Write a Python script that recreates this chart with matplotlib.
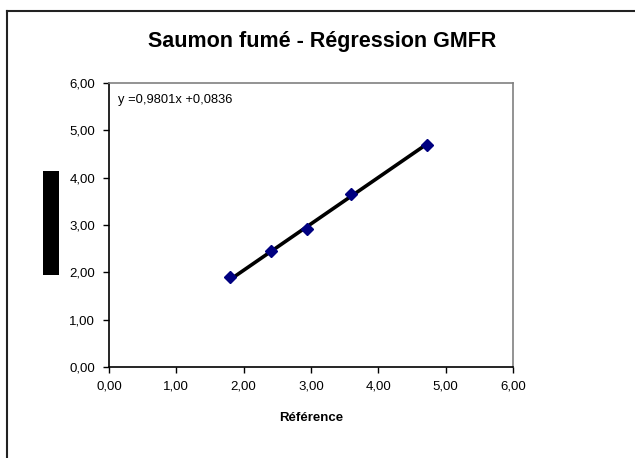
import matplotlib
matplotlib.use("Agg")
import matplotlib.pyplot as plt
from matplotlib.lines import Line2D
from matplotlib.patches import Rectangle
from matplotlib.ticker import FixedLocator, FuncFormatter
import numpy as np

plt.rcParams['font.family'] = ['Liberation Sans', 'DejaVu Sans']

# Data
ref_x = [1.80, 2.40, 2.94, 3.59, 4.72]
meas_y = [1.91, 2.46, 2.91, 3.65, 4.69]
slope = 0.9801
intercept = 0.0836
title = "Saumon fumé - Régression GMFR"
xlabel = "Référence"
equation = "y =0,9801x +0,0836"
ticks = [0, 1, 2, 3, 4, 5, 6]

W, H = 635, 458
fig = plt.figure(figsize=(W / 100, H / 100), dpi=100)
fig.patch.set_facecolor('white')

ax = fig.add_axes([109 / W, (H - 367) / H, (513 - 109) / W, (367 - 83) / H])

xl = np.array([min(ref_x), max(ref_x)])
ax.plot(xl, slope * xl + intercept, color='black', lw=2.6, zorder=2, solid_capstyle='butt')
ax.plot(ref_x, meas_y, linestyle='none', marker='D', ms=6.5, mfc='#000080',
        mec='#000080', zorder=3)

ax.set_xlim(0, 6)
ax.set_ylim(0, 6)
ax.xaxis.set_major_locator(FixedLocator(ticks))
ax.yaxis.set_major_locator(FixedLocator(ticks))
fmt = FuncFormatter(lambda v, p: f"{v:.2f}".replace('.', ','))
ax.xaxis.set_major_formatter(fmt)
ax.yaxis.set_major_formatter(fmt)
ax.tick_params(direction='out', length=4, width=1, labelsize=9.5, color='black', pad=6)

for s in ['left', 'bottom']:
    ax.spines[s].set_color('black')
    ax.spines[s].set_linewidth(1.2)
for s in ['top', 'right']:
    ax.spines[s].set_color('#808080')
    ax.spines[s].set_linewidth(1.2)

ax.set_xlabel(xlabel, fontsize=9.5, fontweight='bold', labelpad=14)

ax.text(0.022, (367 - 100) / 284, equation,
        transform=ax.transAxes, fontsize=9.3, va='center', ha='left')

fig.text(322 / W, 1 - 41 / H, title, fontsize=15.5, fontweight='bold', ha='center', va='center')

# redacted y-axis label block
fig.patches.append(Rectangle((43 / W, 1 - 275 / H), 16 / W, 104 / H,
                             transform=fig.transFigure, facecolor='black', edgecolor='none'))

# outer chart frame (top and left edges visible)
fig.add_artist(Line2D([7 / W, 7 / W], [0, 1 - 11 / H], transform=fig.transFigure,
                      color='#222222', lw=1.5))
fig.add_artist(Line2D([7 / W, 1], [1 - 11 / H, 1 - 11 / H], transform=fig.transFigure,
                      color='#222222', lw=1.5))

fig.savefig('out.png', dpi=100)
